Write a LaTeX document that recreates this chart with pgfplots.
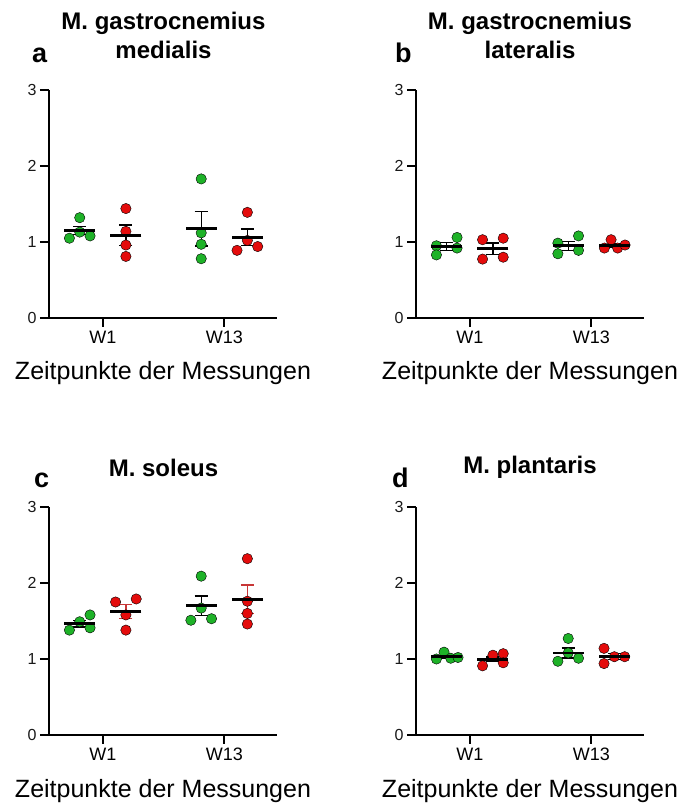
\documentclass[border=0pt]{standalone}
\usepackage{fontspec}
\setmainfont{Liberation Sans}
\usepackage{pgfplots}
\pgfplotsset{compat=1.18}
\definecolor{grn}{RGB}{30,178,40}
\definecolor{rd}{RGB}{228,12,12}
\definecolor{drd}{RGB}{200,55,55}
\newcommand{\yt}[1]{{\fontsize{16}{18}\selectfont #1}}
\newcommand{\xt}[1]{{\fontsize{18}{21}\selectfont #1}}
\pgfplotsset{
  panel/.style={
    scale only axis, width=228pt, height=228pt,
    xmin=0.557, xmax=2.434, ymin=0, ymax=3,
    axis lines=left, axis line style={-, line width=2.4pt},
    xtick={1,2}, xticklabels={\xt{W1},\xt{W13}},
    ytick={0,1,2,3}, yticklabels={\yt{0},\yt{1},\yt{2},\yt{3}},
    tick align=outside, major tick length=9pt, tick style={line width=1.8pt, black},
    yticklabel style={text=black!90},
    xticklabel style={anchor=north, text height=13pt, text depth=0pt, inner sep=3pt},
    xlabel={Zeitpunkte der Messungen},
    xlabel style={font=\fontsize{25}{30}\selectfont, at={(rel axis cs:0.5,0)}, anchor=base, yshift=-62pt},
    clip=false,
  },
  dots/.style={only marks, mark=*, mark size=5.2pt, mark options={draw=none, fill=#1}},
  means/.style={only marks, mark=-, mark size=15.5pt, mark options={line width=2.8pt, draw=black},
     error bars/.cd, y dir=both, y explicit, error bar style={line width=1.4pt, draw=#1},
     error mark options={rotate=90, mark size=6.5pt, line width=1.4pt, draw=#1}},
  means/.default=black,
}
\begin{document}
\begin{tikzpicture}[x=1pt,y=1pt]
\useasboundingbox (0,0) rectangle (682,806);
% ---------- a ----------
\begin{axis}[panel, at={(49pt,488pt)}, anchor=south west]
\addplot[dots=grn] coordinates {(0.725,1.05) (0.81,1.32) (0.81,1.13) (0.895,1.08)};
\addplot[dots=rd] coordinates {(1.19,1.44) (1.19,1.14) (1.19,0.96) (1.19,0.81)};
\addplot[dots=grn] coordinates {(1.81,1.83) (1.81,1.12) (1.81,0.97) (1.81,0.78)};
\addplot[dots=rd] coordinates {(2.19,1.39) (2.105,0.89) (2.19,1.02) (2.275,0.94)};
\addplot[means] coordinates {(0.81,1.15) +- (0,0.053) (1.19,1.087) +- (0,0.135) (1.81,1.175) +- (0,0.229) (2.19,1.06) +- (0,0.11)};
\end{axis}
% ---------- b ----------
\begin{axis}[panel, at={(416pt,488pt)}, anchor=south west]
\addplot[dots=grn] coordinates {(0.725,0.95) (0.725,0.83) (0.895,1.06) (0.895,0.92)};
\addplot[dots=rd] coordinates {(1.105,1.03) (1.105,0.775) (1.275,1.05) (1.275,0.80)};
\addplot[dots=grn] coordinates {(1.725,0.985) (1.725,0.845) (1.895,1.08) (1.895,0.89)};
\addplot[dots=rd] coordinates {(2.108,0.92) (2.163,1.03) (2.217,0.92) (2.278,0.96)};
\addplot[means] coordinates {(0.81,0.94) +- (0,0.05) (1.19,0.91) +- (0,0.075) (1.81,0.95) +- (0,0.06) (2.19,0.957) +- (0,0.025)};
\end{axis}
% ---------- c ----------
\begin{axis}[panel, at={(49pt,71pt)}, anchor=south west]
\addplot[dots=grn] coordinates {(0.725,1.38) (0.81,1.49) (0.895,1.58) (0.895,1.41)};
\addplot[dots=rd] coordinates {(1.105,1.75) (1.275,1.79) (1.19,1.58) (1.19,1.38)};
\addplot[dots=grn] coordinates {(1.81,2.09) (1.81,1.67) (1.725,1.51) (1.895,1.53)};
\addplot[dots=rd] coordinates {(2.19,2.32) (2.19,1.76) (2.19,1.60) (2.19,1.46)};
\addplot[means] coordinates {(0.81,1.465) +- (0,0.045) (1.81,1.70) +- (0,0.13)};
\addplot[means=drd] coordinates {(1.19,1.625) +- (0,0.09) (2.19,1.785) +- (0,0.19)};
\end{axis}
% ---------- d ----------
\begin{axis}[panel, at={(416pt,71pt)}, anchor=south west]
\addplot[dots=grn] coordinates {(0.725,1.0) (0.788,1.09) (0.843,1.01) (0.903,1.02)};
\addplot[dots=rd] coordinates {(1.105,0.91) (1.19,1.05) (1.275,1.07) (1.275,0.95)};
\addplot[dots=grn] coordinates {(1.81,1.27) (1.81,1.08) (1.725,0.97) (1.895,1.01)};
\addplot[dots=rd] coordinates {(2.105,1.14) (2.105,0.94) (2.19,1.03) (2.275,1.03)};
\addplot[means] coordinates {(0.81,1.03) +- (0,0.02) (1.19,0.995) +- (0,0.03) (1.81,1.08) +- (0,0.065) (2.19,1.035) +- (0,0.04)};
\end{axis}
% titles and panel letters
\node[align=center, font=\bfseries\fontsize{24}{29}\selectfont] at (163.5,770.5) {M. gastrocnemius\\medialis};
\node[align=center, font=\bfseries\fontsize{24}{29}\selectfont] at (530,770.5) {M. gastrocnemius\\lateralis};
\node[font=\bfseries\fontsize{24}{29}\selectfont] at (163.5,338) {M. soleus};
\node[font=\bfseries\fontsize{24}{29}\selectfont] at (530,339) {M. plantaris};
\node[anchor=base west, inner sep=0pt, font=\bfseries\fontsize{27}{30}\selectfont] at (32,743) {a};
\node[anchor=base west, inner sep=0pt, font=\bfseries\fontsize{27}{30}\selectfont] at (395,743) {b};
\node[anchor=base west, inner sep=0pt, font=\bfseries\fontsize{27}{30}\selectfont] at (34,318) {c};
\node[anchor=base west, inner sep=0pt, font=\bfseries\fontsize{27}{30}\selectfont] at (392,318) {d};
\end{tikzpicture}
\end{document}
